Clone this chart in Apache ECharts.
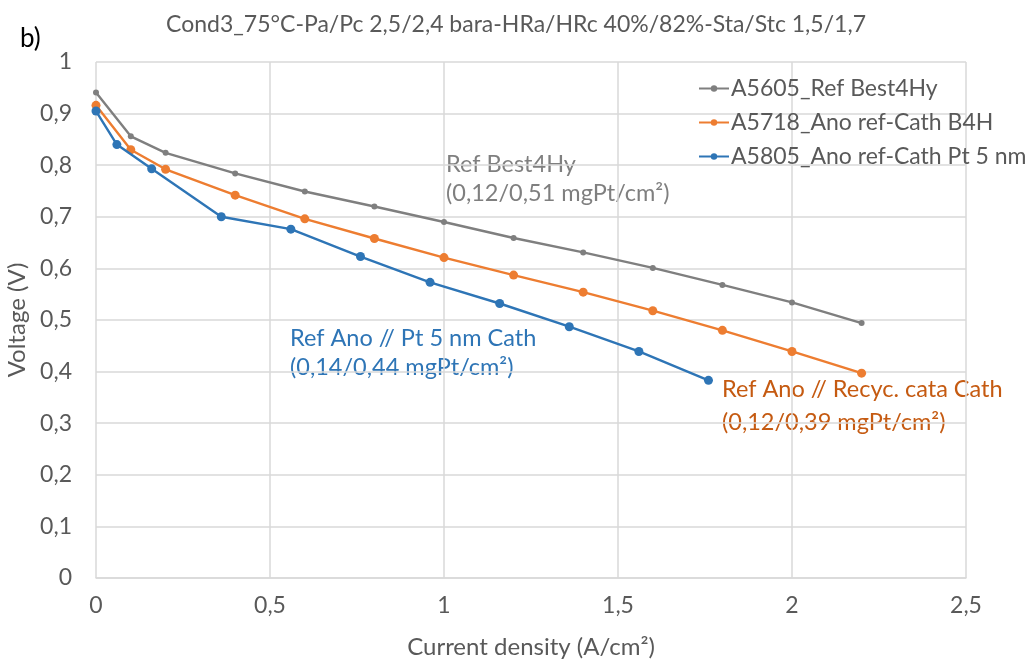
<!DOCTYPE html>
<html>
<head>
<meta charset="utf-8">
<script src="https://cdn.jsdelivr.net/npm/echarts@6/dist/echarts.min.js"></script>
<style>
  html, body { margin: 0; padding: 0; background: #fff; }
  #chart { width: 1035px; height: 660px; }
</style>
</head>
<body>
<div id="chart"></div>
<script>
// Polarisation curves: current density (A/cm²) vs cell voltage (V)
const seriesNames = [
  'A5605_Ref Best4Hy',
  'A5718_Ano ref-Cath B4H',
  'A5805_Ano ref-Cath Pt 5 nm'
];

const refX = [0, 0.1, 0.2, 0.4, 0.6, 0.8, 1.0, 1.2, 1.4, 1.6, 1.8, 2.0, 2.2];
const refV = [0.941, 0.856, 0.824, 0.784, 0.749, 0.720, 0.690, 0.659, 0.631, 0.601, 0.568, 0.534, 0.494];

const b4hX = [0, 0.1, 0.2, 0.4, 0.6, 0.8, 1.0, 1.2, 1.4, 1.6, 1.8, 2.0, 2.2];
const b4hV = [0.916, 0.830, 0.792, 0.742, 0.696, 0.658, 0.621, 0.587, 0.554, 0.518, 0.480, 0.439, 0.397];

const pt5X = [0, 0.06, 0.16, 0.36, 0.56, 0.76, 0.96, 1.16, 1.36, 1.56, 1.76];
const pt5V = [0.905, 0.840, 0.793, 0.700, 0.676, 0.623, 0.573, 0.532, 0.487, 0.439, 0.383];

const xTicks = [0, 0.5, 1, 1.5, 2, 2.5];
const yTicks = [0, 0.1, 0.2, 0.3, 0.4, 0.5, 0.6, 0.7, 0.8, 0.9, 1];

const colors = ['#7f7f7f', '#ed7d31', '#2e75b6'];
const FONT = 'Lato';

const pairs = (xs, ys) => xs.map((x, i) => [x, ys[i]]);
const comma = v => String(+v.toFixed(2)).replace('.', ',');

const chart = echarts.init(document.getElementById('chart'), null, { renderer: 'canvas' });

const lineSeries = (idx, data, symSize) => ({
  name: seriesNames[idx],
  type: 'line',
  data: data,
  symbol: 'circle',
  symbolSize: symSize,
  showAllSymbol: true,
  lineStyle: { color: colors[idx], width: 2.4 },
  itemStyle: { color: colors[idx] },
  emphasis: { disabled: true },
  z: 3 + idx
});

chart.setOption({
  animation: false,
  backgroundColor: '#ffffff',
  textStyle: { fontFamily: FONT },
  title: {
    text: 'Cond3_75°C-Pa/Pc 2,5/2,4 bara-HRa/HRc 40%/82%-Sta/Stc 1,5/1,7',
    left: 511,
    textAlign: 'center',
    top: 8,
    textStyle: { fontFamily: FONT, fontSize: 23, fontWeight: 'normal', color: '#595959' }
  },
  legend: {
    left: 693,
    top: 72,
    orient: 'vertical',
    itemGap: 11,
    itemWidth: 30,
    itemHeight: 8,
    data: seriesNames,
    textStyle: { fontFamily: FONT, fontSize: 23, color: '#595959', padding: [0, 0, 0, -3] }
  },
  grid: { left: 96, right: 69, top: 62, bottom: 82, containLabel: false, outerBoundsMode: 'none' },
  xAxis: {
    type: 'value',
    min: 0, max: 2.5, interval: 0.5,
    name: 'Current density (A/cm²)',
    nameLocation: 'middle',
    nameGap: 57,
    nameTextStyle: { fontFamily: FONT, fontSize: 24, color: '#595959' },
    axisLine: { show: true, lineStyle: { color: '#d9d9d9', width: 1.5 } },
    axisTick: { show: false },
    splitLine: { show: true, lineStyle: { color: '#d9d9d9', width: 1.5 } },
    axisLabel: {
      margin: 16,
      fontFamily: FONT, fontSize: 23, color: '#595959',
      formatter: v => comma(v),
      customValues: xTicks
    }
  },
  yAxis: {
    type: 'value',
    min: 0, max: 1, interval: 0.1,
    name: 'Voltage (V)',
    nameLocation: 'middle',
    nameRotate: 90,
    nameGap: 58,
    nameTextStyle: { fontFamily: FONT, fontSize: 24, color: '#595959' },
    axisLine: { show: false },
    axisTick: { show: false },
    splitLine: { show: true, lineStyle: { color: '#d9d9d9', width: 1.5 } },
    axisLabel: {
      margin: 24,
      fontFamily: FONT, fontSize: 23, color: '#595959',
      formatter: v => comma(v),
      customValues: yTicks
    }
  },
  graphic: [
    { type: 'text', left: 20, top: 26,
      style: { text: 'b)', fontFamily: FONT, fontSize: 26, fill: '#000' } },
    { type: 'text', left: 446, top: 150,
      style: { text: 'Ref Best4Hy\n(0,12/0,51 mgPt/cm²)', fontFamily: FONT, fontSize: 23.5, lineHeight: 29, fill: '#7f7f7f' } },
    { type: 'text', left: 290, top: 324,
      style: { text: 'Ref Ano // Pt 5 nm Cath\n(0,14/0,44 mgPt/cm²)', fontFamily: FONT, fontSize: 23.5, lineHeight: 29, fill: '#2e75b6' } },
    { type: 'text', left: 722, top: 373,
      style: { text: 'Ref Ano // Recyc. cata Cath\n(0,12/0,39 mgPt/cm²)', fontFamily: FONT, fontSize: 23.5, lineHeight: 33, fill: '#c55a11' } }
  ],
  series: [
    lineSeries(0, pairs(refX, refV), 6),
    lineSeries(1, pairs(b4hX, b4hV), 9),
    lineSeries(2, pairs(pt5X, pt5V), 9)
  ]
});
</script>
</body>
</html>
